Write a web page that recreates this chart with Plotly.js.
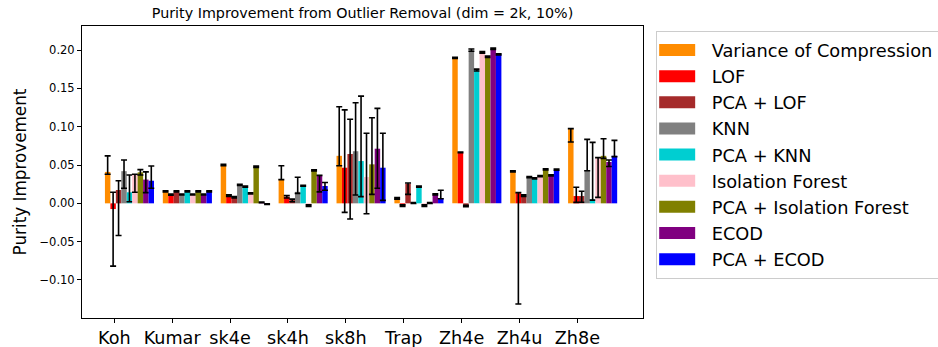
<!DOCTYPE html>
<html>
<head>
<meta charset="utf-8">
<script src="https://cdn.plot.ly/plotly-3.0.1.min.js"></script>
<style>html,body{margin:0;padding:0;background:#fff;}#chart{width:938px;height:347px;}</style>
</head>
<body>
<div id="chart"></div>
<script>
// Datasets (x categories)
const datasets = ["Koh", "Kumar", "sk4e", "sk4h", "sk8h", "Trap", "Zh4e", "Zh4u", "Zh8e"];
const methods = ["Variance of Compression", "LOF", "PCA + LOF", "KNN", "PCA + KNN", "Isolation Forest", "PCA + Isolation Forest", "ECOD", "PCA + ECOD"];
const colors = ["#FF8C00", "#FF0000", "#A52A2A", "#808080", "#00CED1", "#FFC0CB", "#808000", "#800080", "#0000FF"];

// Mean purity improvement per method (order follows datasets)
const varianceOfCompression = [0.041, 0.0157, 0.050, 0.0315, 0.062, 0.0065, 0.1897, 0.0418, 0.097];
const lof                   = [-0.0075, 0.0113, 0.0099, 0.0086, 0.0465, -0.003, 0.0665, 0.0134, 0.0095];
const pcaLof                = [0.0174, 0.0157, 0.0078, 0.0043, 0.0644, 0.0255, -0.0035, 0.010, 0.0095];
const knn                   = [0.042, 0.0115, 0.0243, 0.015, 0.068, 0.0005, 0.200, 0.0343, 0.0435];
const pcaKnn                = [0.0144, 0.0157, 0.0217, 0.023, 0.0552, 0.0217, 0.174, 0.0326, 0.0052];
const isolationForest       = [0.037, 0.0115, 0.013, -0.003, 0.0343, -0.003, 0.197, 0.0356, 0.0587];
const pcaIsolationForest    = [0.0405, 0.0157, 0.0478, 0.043, 0.0509, 0.0005, 0.1914, 0.0444, 0.062];
const ecod                  = [0.031, 0.0115, 0.0013, 0.036, 0.0713, 0.0117, 0.2018, 0.0365, 0.054];
const pcaEcod               = [0.0295, 0.0157, -0.001, 0.0226, 0.0465, 0.0065, 0.1945, 0.0439, 0.062];

// Upper error amounts
const vocErrUp   = [0.021, 0.0008, 0.001, 0.0175, 0.064, 0.001, 0.0008, 0.0007, 0.0005];
const lofErrUp   = [0.0219, 0.0007, 0.0011, 0.0014, 0.0755, 0.001, 0.0005, 0.0006, 0.0115];
const pLofErrUp  = [0.0121, 0.0008, 0.001, 0.0012, 0.0453, 0.001, 0.001, 0.001, 0.0062];
const knnErrUp   = [0.0145, 0.0007, 0.0007, 0.019, 0.0633, 0.0005, 0.0015, 0.0007, 0.04];
const pKnnErrUp  = [0.0226, 0.0008, 0.0007, 0.0007, 0.0848, 0.0007, 0.0012, 0.0007, 0.0744];
const ifErrUp    = [0.001, 0.0007, 0.0007, 0.001, 0.0571, 0.001, 0.001, 0.0007, 0.001];
const pIfErrUp   = [0.0035, 0.0008, 0.0008, 0.0008, 0.0609, 0.0005, 0.0008, 0.0008, 0.0223];
const ecodErrUp  = [0.010, 0.0007, 0.0005, 0.0005, 0.0527, 0.0008, 0.0008, 0.0007, 0.0025];
const pEcodErrUp = [0.0192, 0.0008, 0.0005, 0.0045, 0.0449, 0.0105, 0.0008, 0.0008, 0.0202];

// Lower error amounts
const vocErrDn   = [0.003, 0.0007, 0.001, 0.0005, 0.013, 0.001, 0.0007, 0.0008, 0.017];
const lofErrDn   = [0.0745, 0.0008, 0.0009, 0.0016, 0.0583, 0.001, 0.0005, 0.1449, 0.0082];
const pLofErrDn  = [0.0594, 0.0007, 0.0008, 0.0023, 0.0849, 0.0138, 0.001, 0.001, 0.008];
const knnErrDn   = [0.0224, 0.0007, 0.0008, 0.002, 0.0572, 0.0005, 0.0015, 0.0007, 0.001];
const pKnnErrDn  = [0.0124, 0.0007, 0.0007, 0.0007, 0.0465, 0.0007, 0.0012, 0.0007, 0.001];
const ifErrDn    = [0.0226, 0.0007, 0.0007, 0.001, 0.0479, 0.001, 0.001, 0.0007, 0.0509];
const pIfErrDn   = [0.0035, 0.0007, 0.0008, 0.0008, 0.0392, 0.0005, 0.0008, 0.0008, 0.0033];
const ecodErrDn  = [0.017, 0.0007, 0.0005, 0.021, 0.0517, 0.0008, 0.0008, 0.0007, 0.006];
const pEcodErrDn = [0.0099, 0.0007, 0.0005, 0.0055, 0.0426, 0.0005, 0.0008, 0.0008, 0.001];

const series = [varianceOfCompression, lof, pcaLof, knn, pcaKnn, isolationForest, pcaIsolationForest, ecod, pcaEcod];
const errUp = [vocErrUp, lofErrUp, pLofErrUp, knnErrUp, pKnnErrUp, ifErrUp, pIfErrUp, ecodErrUp, pEcodErrUp];
const errDn = [vocErrDn, lofErrDn, pLofErrDn, knnErrDn, pKnnErrDn, ifErrDn, pIfErrDn, ecodErrDn, pEcodErrDn];

const groupPos = datasets.map((d, i) => i);
const tickOffset = -0.263;

const traces = methods.map((m, k) => ({
  type: 'bar',
  name: m,
  x: groupPos,
  y: series[k],
  marker: {color: colors[k], line: {width: 0}},
  error_y: {type: 'data', symmetric: false, array: errUp[k], arrayminus: errDn[k], color: '#000000', thickness: 1.6, width: 3},
  hoverinfo: 'skip'
}));

const font = "DejaVu Sans, sans-serif";
const layout = {
  width: 938, height: 347,
  margin: {l: 82, r: 295, t: 26, b: 29, autoexpand: false},
  paper_bgcolor: '#ffffff', plot_bgcolor: '#ffffff',
  barmode: 'group', bargap: 0.152, bargroupgap: 0,
  font: {family: font, color: '#000000'},
  title: {text: 'Purity Improvement from Outlier Removal (dim = 2k, 10%)', font: {family: font, size: 14.3, color: '#000'}, x: 0.3865, xanchor: 'center', y: 0.962, yanchor: 'middle'},
  xaxis: {
    range: [-0.82, 8.87],
    tickvals: groupPos.map(v => v + tickOffset),
    ticktext: datasets,
    tickfont: {family: font, size: 17.6, color: '#000'},
    ticks: 'outside', ticklen: 4, tickcolor: '#000', tickwidth: 1,
    showline: true, linecolor: '#000', linewidth: 1, mirror: true,
    showgrid: false, zeroline: false
  },
  yaxis: {
    range: [-0.1497, 0.2315],
    tickvals: [-0.10, -0.05, 0.00, 0.05, 0.10, 0.15, 0.20],
    tickformat: '.2f',
    tickfont: {family: font, size: 11.5, color: '#000'},
    ticks: 'outside', ticklen: 4, tickcolor: '#000', tickwidth: 1,
    showline: true, linecolor: '#000', linewidth: 1, mirror: true,
    showgrid: false, zeroline: false,
    title: {text: 'Purity Improvement', font: {family: font, size: 16.8, color: '#000'}, standoff: 8}
  },
  showlegend: true,
  legend: {
    x: 1.0226, xanchor: 'left', y: 0.983, yanchor: 'top',
    font: {family: font, size: 17.8, color: '#000'},
    bordercolor: '#cccccc', borderwidth: 1, bgcolor: '#ffffff',
    traceorder: 'normal', itemwidth: 45,
    entrywidthmode: 'pixels', entrywidth: 300
  }
};

Plotly.newPlot('chart', traces, layout, {staticPlot: true, displayModeBar: false}).then(function (gd) {
  // widen legend swatches to the wide rectangles of the reference
  gd.querySelectorAll('.legend path.legendbar, .legend g.legendpoints path').forEach(function (p) {
    p.setAttribute('d', 'M11,6H-25V-6H11Z');
  });
});
</script>
</body>
</html>
